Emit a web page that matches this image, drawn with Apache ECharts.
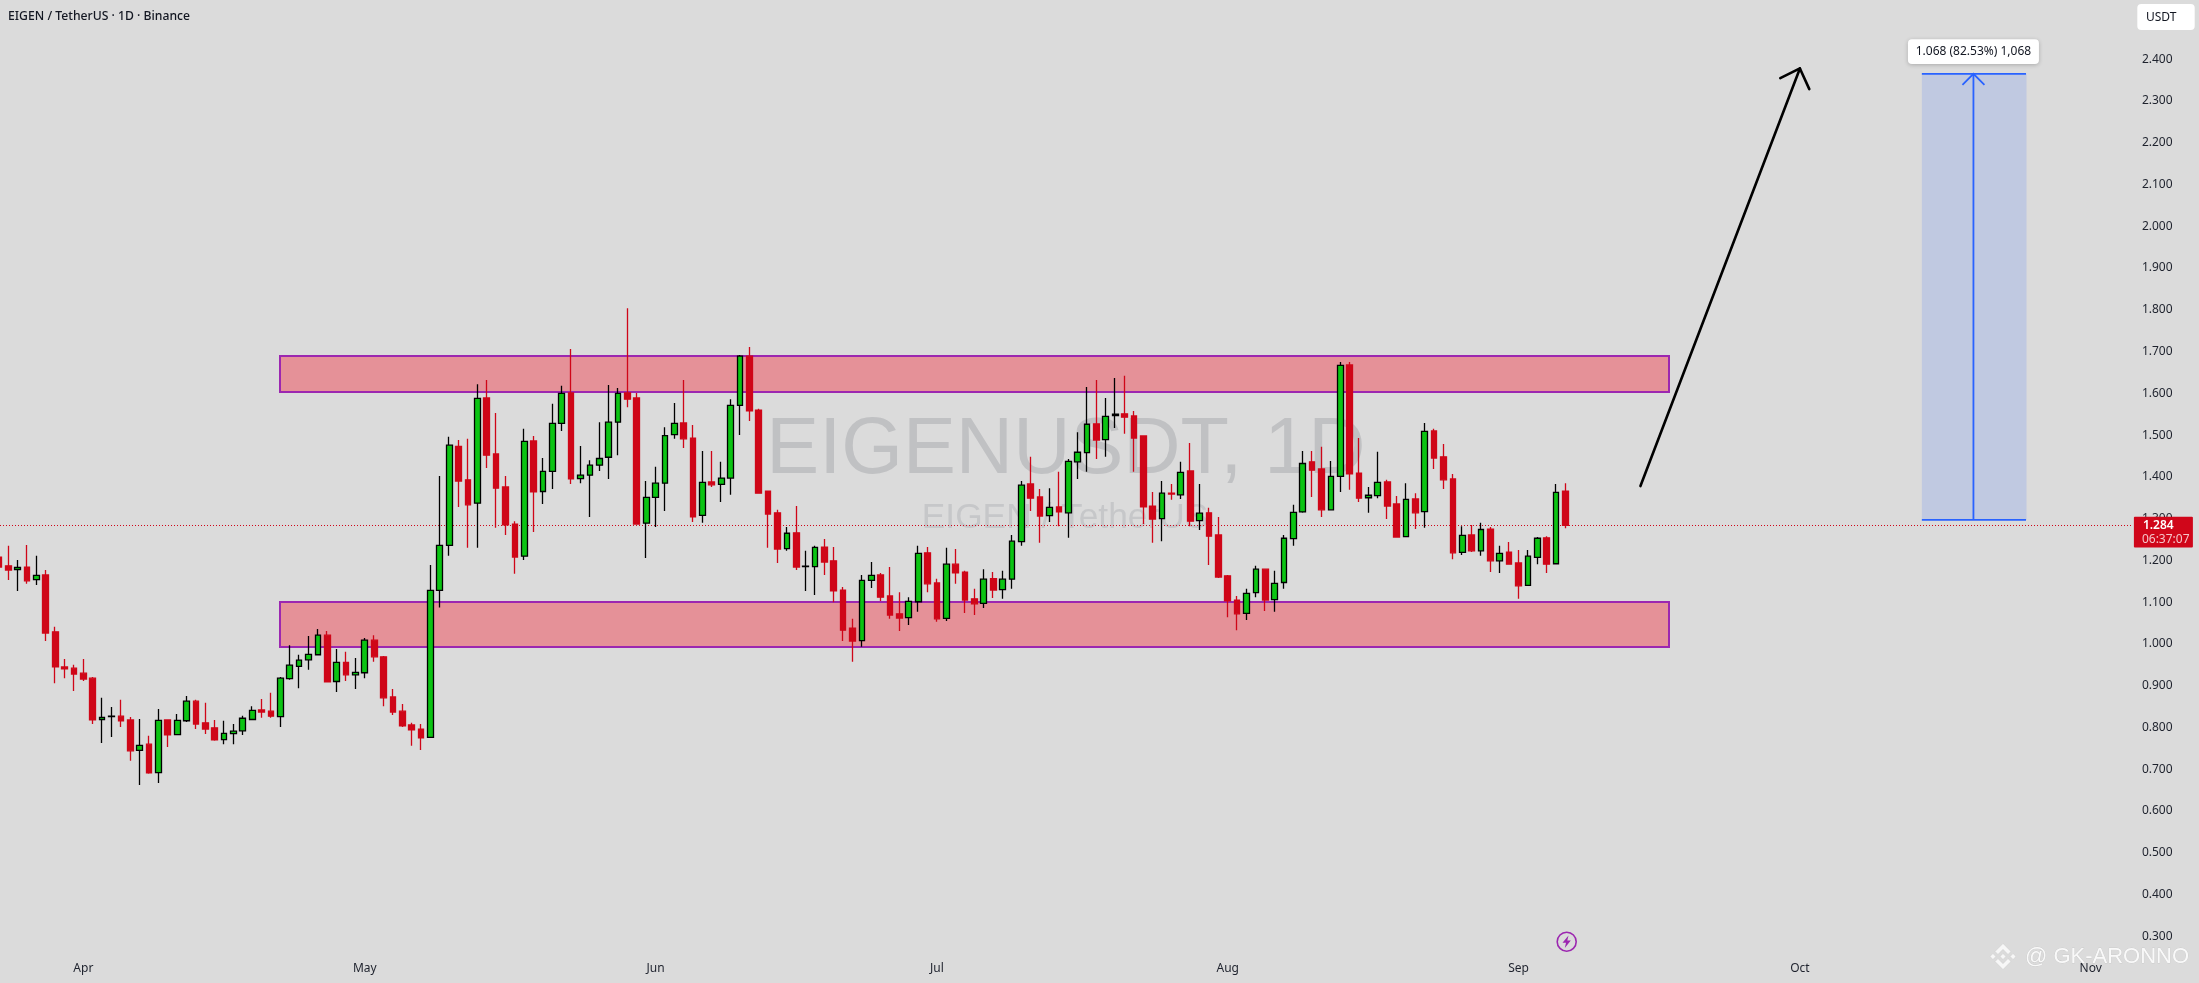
<!DOCTYPE html>
<html><head><meta charset="utf-8">
<style>html,body{margin:0;padding:0;background:#dbdbdb;overflow:hidden;width:2199px;height:983px}#c{position:absolute;left:-6px;top:0;width:2205px;height:983px}</style>
<script src="https://cdn.jsdelivr.net/npm/echarts@6/dist/echarts.min.js"></script>
</head><body><div id="c"></div>
<script>
const firstDate = '2025-03-23';
const dayCount = 228;
const monthNames = ['Jan','Feb','Mar','Apr','May','Jun','Jul','Aug','Sep','Oct','Nov','Dec'];
const yTickMin = 0.2, yTickMax = 2.5, yTickStep = 0.1;

const opens = [
1.208,1.187,1.178,1.184,1.154,1.165,1.029,.945,.942,.930,
.918,.819,.826,.827,.818,.745,.760,.692,.818,.783,
.816,.863,.811,.799,.771,.785,.792,.819,.842,.839,
.826,.917,.946,.962,.974,1.021,.910,.956,.926,.931,
1.009,.969,.873,.839,.806,.796,.776,1.128,1.236,1.473,
1.393,1.337,1.589,1.455,1.376,1.287,1.210,1.486,1.365,1.413,
1.528,1.601,1.396,1.404,1.428,1.447,1.531,1.601,1.589,1.289,
1.351,1.385,1.501,1.529,1.493,1.308,1.388,1.382,1.397,1.571,
1.689,1.560,1.366,1.314,1.228,1.266,1.185,1.185,1.232,1.199,
1.129,1.038,1.008,1.152,1.165,1.115,1.072,1.063,1.101,1.218,
1.146,1.061,1.191,1.172,1.108,1.097,1.156,1.130,1.155,1.245,
1.383,1.352,1.307,1.328,1.314,1.436,1.458,1.527,1.489,1.547,
1.551,1.546,1.498,1.330,1.300,1.361,1.357,1.414,1.295,1.314,
1.261,1.163,1.105,1.073,1.123,1.179,1.106,1.147,1.252,1.316,
1.436,1.419,1.321,1.401,1.668,1.409,1.350,1.355,1.388,1.335,
1.257,1.347,1.317,1.510,1.448,1.395,1.219,1.261,1.223,1.275,
1.199,1.220,1.194,1.140,1.207,1.254,1.192,1.366];
const closes = [
1.184,1.177,1.183,1.151,1.164,1.026,.945,.940,.928,.916,
.818,.824,.827,.816,.744,.757,.691,.817,.782,.817,
.863,.808,.796,.770,.786,.791,.822,.841,.837,.827,
.918,.949,.961,.975,1.021,.909,.956,.926,.932,1.009,
.969,.871,.837,.804,.794,.775,1.128,1.236,1.476,1.390,
1.333,1.588,1.452,1.373,1.285,1.208,1.485,1.364,1.413,1.528,
1.600,1.395,1.404,1.428,1.444,1.531,1.600,1.586,1.287,1.351,
1.385,1.499,1.528,1.491,1.304,1.387,1.381,1.397,1.571,1.689,
1.558,1.361,1.311,1.227,1.265,1.184,1.186,1.231,1.196,1.127,
1.033,1.007,1.152,1.164,1.112,1.069,1.062,1.102,1.217,1.144,
1.060,1.191,1.170,1.105,1.096,1.155,1.129,1.155,1.246,1.380,
1.349,1.306,1.327,1.316,1.437,1.459,1.526,1.488,1.545,1.550,
1.543,1.493,1.328,1.299,1.361,1.359,1.411,1.294,1.313,1.258,
1.160,1.103,1.072,1.121,1.179,1.105,1.145,1.253,1.315,1.432,
1.416,1.321,1.401,1.667,1.407,1.349,1.356,1.387,1.330,1.256,
1.346,1.314,1.509,1.445,1.393,1.218,1.260,1.223,1.274,1.199,
1.217,1.191,1.139,1.210,1.253,1.191,1.363,1.284];
const lows = [
1.179,1.153,1.127,1.144,1.141,1.007,.906,.918,.887,.911,
.808,.763,.777,.801,.720,.662,.689,.667,.753,.782,
.813,.796,.784,.768,.760,.760,.782,.818,.823,.823,
.801,.914,.894,.938,.974,.909,.885,.911,.892,.918,
.957,.851,.830,.801,.756,.746,.775,1.087,1.211,1.328,
1.230,1.230,1.421,1.278,1.261,1.168,1.201,1.268,1.335,1.371,
1.510,1.383,1.385,1.304,1.414,1.395,1.452,1.567,1.287,1.206,
1.280,1.318,1.491,1.469,1.292,1.290,1.376,1.340,1.357,1.500,
1.534,1.361,1.230,1.194,1.223,1.177,1.127,1.117,1.165,1.100,
1.007,.957,.993,1.134,1.103,1.060,1.031,1.045,1.077,1.124,
1.053,1.055,1.144,1.074,1.069,1.086,1.110,1.108,1.132,1.235,
1.318,1.242,1.292,1.282,1.254,1.395,1.412,1.443,1.448,1.517,
1.503,1.412,1.287,1.242,1.246,1.345,1.347,1.282,1.273,1.189,
1.158,1.064,1.033,1.057,1.112,1.079,1.077,1.132,1.235,1.314,
1.352,1.304,1.321,1.364,1.369,1.340,1.314,1.349,1.299,1.254,
1.257,1.275,1.278,1.419,1.371,1.203,1.213,1.220,1.211,1.172,
1.170,1.191,1.108,1.139,1.191,1.170,1.192,1.277];
const highs = [
1.213,1.235,1.201,1.237,1.211,1.177,1.041,.964,.950,.964,
.921,.871,.849,.866,.825,.820,.780,.844,.818,.832,
.875,.866,.859,.818,.816,.808,.828,.851,.868,.883,
.921,.997,.974,1.019,1.036,1.031,.988,.981,.966,1.014,
1.021,.971,.892,.856,.811,.808,1.189,1.402,1.496,1.488,
1.491,1.622,1.632,1.553,1.402,1.294,1.515,1.498,1.445,1.575,
1.618,1.706,1.474,1.440,1.531,1.620,1.613,1.804,1.601,1.390,
1.424,1.519,1.577,1.632,1.524,1.462,1.462,1.436,1.586,1.692,
1.711,1.563,1.366,1.321,1.280,1.330,1.223,1.235,1.251,1.232,
1.136,1.060,1.165,1.196,1.170,1.184,1.124,1.112,1.235,1.232,
1.156,1.230,1.227,1.175,1.132,1.179,1.172,1.175,1.261,1.390,
1.448,1.371,1.373,1.412,1.443,1.507,1.615,1.632,1.589,1.637,
1.642,1.558,1.498,1.364,1.390,1.383,1.436,1.481,1.383,1.326,
1.304,1.165,1.115,1.132,1.187,1.179,1.175,1.261,1.333,1.462,
1.462,1.472,1.438,1.675,1.675,1.493,1.376,1.460,1.393,1.354,
1.385,1.361,1.529,1.515,1.479,1.407,1.282,1.285,1.290,1.280,
1.235,1.244,1.225,1.225,1.256,1.258,1.383,1.385];

const zoneStart = '2025-04-22', zoneEnd = '2025-09-17';
const zoneUpper = [1.603, 1.689];
const zoneLower = [0.993, 1.100];
const lastPrice = 1.284;
const countdown = '06:37:07';
const measureStart = '2025-10-14', measureEnd = '2025-10-25';
const measureMidA = '2025-10-19', measureMidB = '2025-10-20';
const measureLow = 1.297, measureHigh = 2.365;
const measureText = '1.068 (82.53%) 1,068';
const forecastFrom = ['2025-09-14', 1.378];
const forecastTo = ['2025-10-01', 2.378];

const PAGE_SHIFT = 6;
const FONT = '"Noto Sans", sans-serif';
const LOGO = 'M16.624 13.9202l2.7175 2.7154-7.353 7.353-7.353-7.352 2.7175-2.7164 4.6355 4.6595 4.6356-4.6595zm4.6366-4.6366L24 12l-2.7154 2.7164L18.5682 12l2.6924-2.7164zm-9.272.001l2.7163 2.6914-2.7164 2.7174v-.001L9.2721 12l2.7164-2.7154zm-9.2722-.001L5.4088 12l-2.6914 2.6924L0 12l2.7164-2.7164zM11.9885.0115l7.353 7.329-2.7174 2.7154-4.6356-4.6356-4.6355 4.6595-2.7174-2.7154 7.353-7.353z';
const categories = [];
{ const d = new Date(firstDate + 'T00:00:00Z');
  for (let i = 0; i < dayCount; i++) { categories.push(d.toISOString().slice(0, 10)); d.setUTCDate(d.getUTCDate() + 1); } }
const ix = s => categories.indexOf(s);
const candles = opens.map((o, i) => [o, closes[i], lows[i], highs[i]]);

const chart = echarts.init(document.getElementById('c'), null, {renderer:'canvas'});

function zoneRect(api, z) {
  const a = api.coord([ix(zoneStart), z[1]]), b = api.coord([ix(zoneEnd), z[0]]);
  const x0 = Math.round(a[0]), y0 = Math.round(a[1]), x1 = Math.round(b[0]), y1 = Math.round(b[1]);
  return {type:'rect', shape:{x:x0, y:y0, width:x1-x0, height:y1-y0},
    style:{fill:'#e59198', stroke:'#9c27b0', lineWidth:2}};
}
const oneRow = [[0, 1]];

chart.setOption({
  animation:false,
  backgroundColor:'#dbdbdb',
  grid:{left:0.26, top:17.5, width:2138.64, height:960.5},
  xAxis:{type:'category', data:categories, boundaryGap:true,
    axisLine:{show:false}, axisTick:{show:false}, splitLine:{show:false},
    axisLabel:{inside:true, margin:3, color:'#1e222d', fontSize:12, fontFamily:FONT,
      interval:(i, v) => v.slice(8) === '01', hideOverlap:false,
      formatter:v => monthNames[+v.slice(5,7)-1]}},
  yAxis:{type:'value', position:'right', min:yTickMin, max:yTickMax, interval:yTickStep,
    axisLine:{show:false}, axisTick:{show:false}, splitLine:{show:false},
    axisLabel:{margin:9, color:'#1e222d', fontSize:12, fontFamily:FONT,
      showMinLabel:false, showMaxLabel:false, formatter:v => v.toFixed(3)}},
  series:[
    {type:'custom', z:1, silent:true, data:oneRow, clip:false,
      renderItem:(p, api) => ({type:'group', children:[zoneRect(api, zoneUpper), zoneRect(api, zoneLower)]})},
    {type:'custom', z:1.5, silent:true, data:oneRow, clip:false,
      renderItem:(p, api) => { const y = Math.round(api.coord([0, lastPrice])[1]) + .5, r = p.coordSys;
        return {type:'line', shape:{x1:PAGE_SHIFT, y1:y, x2:r.x+r.width, y2:y},
          style:{stroke:'#d0061a', lineWidth:1, lineDash:[1,2]}}; }},
    {type:'candlestick', z:2, silent:true, data:candles, barWidth:6.2,
      itemStyle:{color:'#0bc413', color0:'#cf0618', borderColor:'#000000', borderColor0:'#cf0618', borderWidth:1.3}},
    {type:'custom', z:3, silent:true, data:oneRow, clip:false,
      renderItem:(p, api) => {
        const a = api.coord([ix(measureStart), measureHigh]), b = api.coord([ix(measureEnd), measureLow]);
        const mx = (api.coord([ix(measureMidA), 1])[0] + api.coord([ix(measureMidB), 1])[0]) / 2;
        const blue = '#2962ff', s = {stroke:blue, lineWidth:1.8, fill:null};
        const f0 = api.coord([ix(forecastFrom[0]), forecastFrom[1]]), f1 = api.coord([ix(forecastTo[0]), forecastTo[1]]);
        const ks = {stroke:'#000', lineWidth:2.6, fill:null, lineCap:'round', lineJoin:'round'};
        return {type:'group', children:[
          {type:'rect', shape:{x:a[0], y:a[1], width:b[0]-a[0]+1.5, height:b[1]-a[1]}, style:{fill:'#c0c9e1'}},
          {type:'line', shape:{x1:a[0], y1:a[1], x2:b[0]+1, y2:a[1]}, style:s},
          {type:'line', shape:{x1:a[0], y1:b[1], x2:b[0]+1, y2:b[1]}, style:s},
          {type:'line', shape:{x1:mx, y1:a[1], x2:mx, y2:b[1]}, style:s},
          {type:'polyline', shape:{points:[[mx-11,a[1]+11],[mx,a[1]],[mx+11,a[1]+11]]}, style:s},
          {type:'rect', shape:{x:(a[0]+b[0])/2-65.5, y:a[1]-34.7, width:131, height:24.7, r:4},
            style:{fill:'#fff', shadowBlur:4, shadowColor:'rgba(0,0,0,.22)', shadowOffsetY:1}},
          {type:'text', style:{text:measureText, x:(a[0]+b[0])/2, y:a[1]-22.3, fill:'#131722',
            font:'12px '+FONT, align:'center', verticalAlign:'middle'}},
          {type:'line', shape:{x1:f0[0], y1:f0[1], x2:f1[0], y2:f1[1]}, style:ks},
          {type:'polyline', shape:{points:[[f1[0]-19.6,f1[1]+9.7],[f1[0],f1[1]],[f1[0]+9.4,f1[1]+20.7]]}, style:ks}
        ]};
      }},
    {type:'custom', z:5, silent:true, data:oneRow, clip:false,
      renderItem:(p, api) => { const y = api.coord([0, lastPrice])[1], x = p.coordSys.x + p.coordSys.width + 1;
        return {type:'group', children:[
          {type:'rect', shape:{x:x, y:y-8.5, width:59, height:30.7, r:1}, style:{fill:'#d0061a'}},
          {type:'text', style:{text:lastPrice.toFixed(3), x:x+9, y:y, fill:'#fff', font:'600 12px '+FONT, verticalAlign:'middle'}},
          {type:'text', style:{text:countdown, x:x+8, y:y+14, fill:'#f5c4c8', font:'12px '+FONT, verticalAlign:'middle'}}
        ]}; }},
    {type:'custom', z:6, silent:true, data:oneRow, clip:false,
      renderItem:() => ({type:'path', shape:{pathData:LOGO, x:1990+PAGE_SHIFT, y:943.5, width:26, height:26, layout:'cover'},
        style:{fill:'#f7f7f7', stroke:'#c4c4c4', lineWidth:.4}})}
  ],
  graphic:[{type:'group', x:PAGE_SHIFT, y:0, silent:true, z:-1, children:[
    {type:'text', style:{text:'EIGENUSDT, 1D', x:1066, y:451, fill:'#c0c1c3', font:'79.3px "Liberation Sans", Arial, sans-serif', align:'center', verticalAlign:'middle'}},
    {type:'text', style:{text:'EIGEN / TetherUS', x:1065, y:518, fill:'#c6c7c9', font:'35.3px "Liberation Sans", Arial, sans-serif', align:'center', verticalAlign:'middle'}}
  ]},{type:'group', x:PAGE_SHIFT, y:0, silent:true, z:10, children:[
    {type:'text', style:{text:'EIGEN / TetherUS · 1D · Binance', x:8, y:16.5, fill:'#131722', font:'500 12.2px '+FONT, verticalAlign:'middle'}},
    {type:'rect', shape:{x:2137.3, y:4, width:57.4, height:26, r:4}, style:{fill:'#fff'}},
    {type:'text', style:{text:'USDT', x:2146, y:17.5, fill:'#131722', font:'12px '+FONT, verticalAlign:'middle'}},
    {type:'circle', shape:{cx:1566.7, cy:941.7, r:9.5}, style:{fill:'#dbdbdb', stroke:'#9c27b0', lineWidth:1.6}},
    {type:'polygon', shape:{points:[[1568.5,935.5],[1562.5,942.8],[1566,942.8],[1564.8,948],[1570.8,940.6],[1567.3,940.6]]}, style:{fill:'#9c27b0'}},
    {type:'text', style:{text:'@ GK-ARONNO', x:2025, y:957, fill:'#f9f9f9', stroke:'#bdbdbd', lineWidth:.4, font:'22px "Liberation Sans", Arial, sans-serif', verticalAlign:'middle'}}
  ]}]
});
</script></body></html>
